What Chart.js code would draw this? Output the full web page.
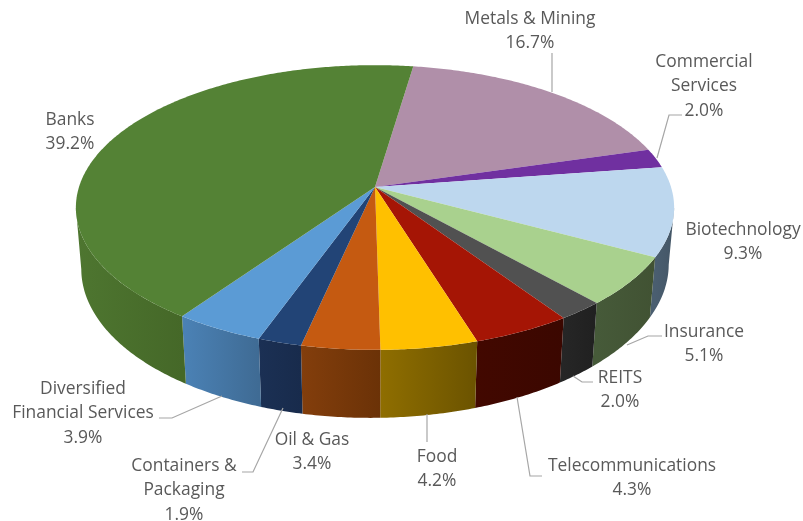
<!DOCTYPE html>
<html>
<head>
<meta charset="utf-8">
<title>Sector allocation</title>
<script src="https://cdn.jsdelivr.net/npm/chart.js@4"></script>
<style>
  html, body { margin: 0; padding: 0; background: #fff; }
  canvas { display: block; }
</style>
</head>
<body>
<canvas id="sectorPie" width="803" height="521"></canvas>
<script>
// sector names, clockwise from the top of the pie (arrays wrap onto several lines)
const categories = [
  "Metals & Mining", ["Commercial", "Services"], "Biotechnology", "Insurance", "REITS",
  "Telecommunications", "Food", "Oil & Gas", ["Containers &", "Packaging"],
  ["Diversified", "Financial Services"], "Banks"
];
const shares = [16.7, 2.0, 9.3, 5.1, 2.0, 4.3, 4.2, 3.4, 1.9, 3.9, 39.2];

const topColors = [
  "#B08FA9", "#7030A0", "#BDD7EE", "#A9D18E", "#515151",
  "#A51505", "#FFC000", "#C55A11", "#224476", "#5B9BD5", "#548235"
];
// left and right colour of each slice's outer wall
const wallColors = [
  ["#6e5a6a", "#6e5a6a"], ["#46206a", "#46206a"], ["#4a5e70", "#445666"], ["#465a39", "#415233"],
  ["#262626", "#202020"], ["#420800", "#3b0700"], ["#8f6e00", "#6b5300"], ["#833e0c", "#6b3207"],
  ["#1b3054", "#182b4c"], ["#4b82b6", "#3f6b94"], ["#4e7630", "#456828"]
];

// where each label block sits: centre x, y of first line
const labelSpots = [
  [530, 19], [704, 62], [743, 230], [704, 332], [620, 378],
  [632, 466], [437, 457], [312, 440], [184, 466], [83, 389], [70, 120]
];
const lineGap = 24.5;

// leader lines from labels to the pie rim
const leaders = [
  [[552, 53], [552, 92]],
  [[682, 115], [669, 115], [657, 158]],
  [[662, 336], [648, 336], [627, 345]],
  [[593, 382], [582, 382], [573, 376]],
  [[542, 476], [530, 476], [517, 397]],
  [[427, 442], [427, 414]],
  [[242, 472], [253, 472], [283, 408]],
  [[159, 418], [172, 418], [222, 396]]
];

// ----- perspective of the tilted disc
const squash = 0.471;     // vertical size of the disc relative to its width
const tilt = 0.144;       // how much nearer points grow
const thickness = 58.2;   // height of the wall
const lean = 0.04;        // wall is a bit taller on the left than on the right
const sink = 0.018;       // how much the bottom rim narrows
const wallFrom = 8.3 * Math.PI / 180;
const wallTo = Math.PI - wallFrom;

function project(el, angle, lower) {
  const u = Math.cos(angle), v = Math.sin(angle);
  const w = 1 - tilt * v;
  const drop = lower ? thickness * (1 - lean * u) : 0;
  return {
    x: el.x + el.outerRadius * u / (w + (lower ? sink : 0)),
    y: el.y + (el.outerRadius * squash * v + drop) / w
  };
}

function rimPath(ctx, el, from, to, lower) {
  const steps = Math.max(2, Math.ceil(Math.abs(to - from) / 0.01));
  for (let i = 0; i <= steps; i++) {
    const p = project(el, from + (to - from) * i / steps, lower);
    ctx.lineTo(p.x, p.y);
  }
}

function drawWall(ctx, el, index) {
  const from = Math.max(el.startAngle, wallFrom);
  const to = Math.min(el.endAngle, wallTo);
  if (to <= from) return;
  const a = project(el, to, false), b = project(el, from, false);
  const grad = ctx.createLinearGradient(a.x, 0, b.x, 0);
  grad.addColorStop(0, wallColors[index][0]);
  grad.addColorStop(1, wallColors[index][1]);
  ctx.beginPath();
  rimPath(ctx, el, from, to, false);
  rimPath(ctx, el, to, from, true);
  ctx.closePath();
  ctx.fillStyle = grad;
  ctx.fill();
}

function drawTop(ctx, el) {
  ctx.beginPath();
  ctx.moveTo(el.x, el.y);
  rimPath(ctx, el, el.startAngle, el.endAngle, false);
  ctx.closePath();
  ctx.fillStyle = el.options.backgroundColor;
  ctx.fill();
}

// the arcs get painted through the projection above instead of flat
const tiltedPie = {
  id: "tiltedPie",
  beforeDatasetDraw(chart, args) {
    const ctx = chart.ctx;
    const arcs = args.meta.data;
    ctx.save();
    arcs.forEach((el, i) => drawWall(ctx, el, i));
    arcs.forEach(el => drawTop(ctx, el));
    ctx.restore();
    return false;
  },
  afterDatasetsDraw(chart) {
    const ctx = chart.ctx;
    ctx.save();
    ctx.strokeStyle = "#a6a6a6";
    ctx.lineWidth = 1.2;
    leaders.forEach(pts => {
      ctx.beginPath();
      pts.forEach((p, i) => (i ? ctx.lineTo(p[0], p[1]) : ctx.moveTo(p[0], p[1])));
      ctx.stroke();
    });

    ctx.fillStyle = "#595959";
    ctx.font = "17.4px 'Open Sans'";
    ctx.textAlign = "center";
    ctx.textBaseline = "middle";
    categories.forEach((name, i) => {
      const lines = [].concat(name, shares[i].toFixed(1) + "%");
      lines.forEach((line, n) => {
        ctx.fillText(line, labelSpots[i][0], labelSpots[i][1] + n * lineGap);
      });
    });
    ctx.restore();
  }
};

new Chart(document.getElementById("sectorPie"), {
  type: "pie",
  data: {
    labels: categories,
    datasets: [{
      data: shares,
      backgroundColor: topColors,
      borderWidth: 0,
      radius: 296,
      clip: false
    }]
  },
  options: {
    responsive: false,
    animation: false,
    rotation: 8.5,
    layout: { padding: { left: 0, right: 53, top: 0, bottom: 147 } },
    plugins: { legend: { display: false }, tooltip: { enabled: false } }
  },
  plugins: [tiltedPie]
});
</script>
</body>
</html>
